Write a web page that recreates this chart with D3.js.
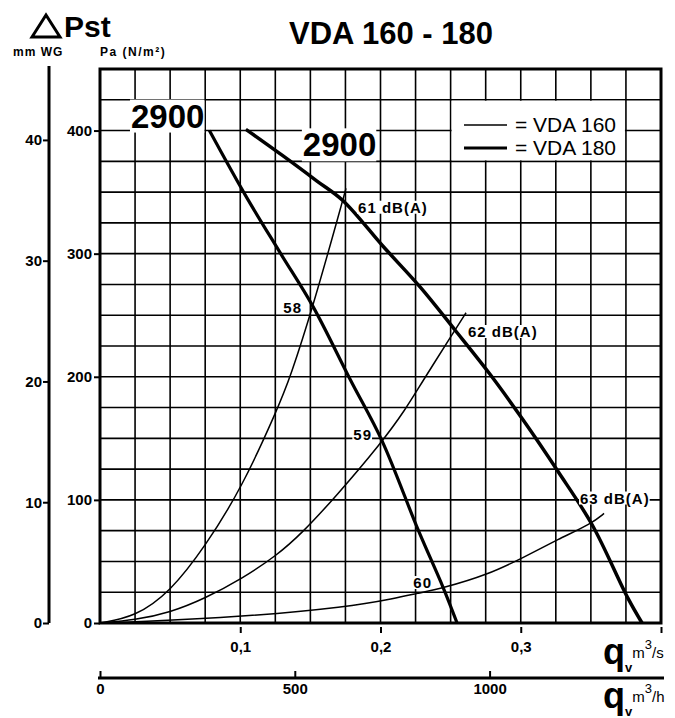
<!DOCTYPE html>
<html>
<head>
<meta charset="utf-8">
<script src="https://cdn.jsdelivr.net/npm/d3@7"></script>
<style>
  body { margin: 0; background: #fff; }
  svg { display: block; }
  text { font-family: "Liberation Sans", Arial, sans-serif; fill: #000; }
</style>
</head>
<body>
<div id="chart"></div>
<script>
const fan160 = [[0.078, 400], [0.1034, 348], [0.1283, 301], [0.1519, 257], [0.1783, 198],
                [0.2011, 148], [0.2267, 76], [0.2446, 29], [0.2546, 0]];
const fan180 = [[0.104, 401], [0.1298, 380], [0.1547, 359], [0.1733, 343], [0.2018, 306],
                [0.2282, 273], [0.2531, 238], [0.2781, 202], [0.3016, 165], [0.3266, 123],
                [0.3508, 80], [0.3765, 20], [0.3865, 0]];
// Courbes de réseau (fines)
const sysA = [[0, 0], [0.025, 5], [0.0499, 25], [0.0749, 62], [0.1012, 110], [0.1262, 173],
              [0.1355, 199], [0.1519, 257], [0.1725, 341], [0.1754, 353]];
const sysB = [[0, 0], [0.025, 2.4], [0.0499, 8.5], [0.0749, 20], [0.1012, 36], [0.1262, 55],
              [0.144, 73], [0.1676, 102], [0.2011, 147], [0.2175, 173], [0.2282, 193],
              [0.2531, 238], [0.261, 252]];
const sysC = [[0, 0], [0.025, 0.8], [0.1012, 5], [0.1768, 13], [0.2103, 20], [0.226, 24],
              [0.2446, 28.4], [0.2759, 39], [0.3016, 53], [0.3266, 68], [0.3508, 81], [0.3594, 89]];

// points de fonctionnement annotés
const dbLabels = ["61 dB(A)", "58", "62 dB(A)", "59", "60", "63 dB(A)"];
const dbPoints = [[0.1733, 343], [0.1519, 257], [0.2531, 238], [0.2011, 148], [0.2446, 28.4], [0.3508, 80]];
const speedLabels = ["2900", "2900"];

// axes
const paTicks = [0, 100, 200, 300, 400];
const mmTicks = [0, 10, 20, 30, 40];
const qsTicks = [0.1, 0.2, 0.3, 0.4];
const qsTickLabels = ["0,1", "0,2", "0,3", ""];
const qhTicks = [0, 500, 1000];
const legendLabels = ["= VDA 160", "= VDA 180"];

const PA_PER_MM = 9.81;
const QMAX = 0.4, PMAX = 450;

document.addEventListener("DOMContentLoaded", () => {
    const width = 675, height = 718;
    const plot = { left: 100, right: 661, top: 69, bottom: 623 };

    const svg = d3.select("#chart").append("svg")
        .attr("width", width)
        .attr("height", height);

    const x = d3.scaleLinear().domain([0, QMAX]).range([plot.left, plot.right]);
    const y = d3.scaleLinear().domain([0, PMAX]).range([plot.bottom, plot.top]);
    const yMM = d3.scaleLinear().domain([0, PMAX / PA_PER_MM]).range([plot.bottom, plot.top]);
    const xH = d3.scaleLinear().domain([0, QMAX * 3600]).range([plot.left, plot.right]);

    // grille
    const grid = svg.append("g").attr("stroke", "#000").attr("stroke-width", 1.6);
    grid.selectAll(".v").data(d3.range(0, QMAX + 1e-6, 0.025)).enter().append("line")
        .attr("x1", d => x(d)).attr("x2", d => x(d))
        .attr("y1", y(0)).attr("y2", y(PMAX));
    grid.selectAll(".h").data(d3.range(0, PMAX + 1e-6, 25)).enter().append("line")
        .attr("y1", d => y(d)).attr("y2", d => y(d))
        .attr("x1", x(0)).attr("x2", x(QMAX));

    // cadre légende (fond blanc sur la grille)
    svg.append("rect")
        .attr("x", x(0.25) + 1).attr("y", y(425) + 1)
        .attr("width", x(0.375) - x(0.25) - 2).attr("height", y(375) - y(425) - 2)
        .attr("fill", "#fff");

    // cadre
    svg.append("rect")
        .attr("x", plot.left).attr("y", plot.top)
        .attr("width", plot.right - plot.left).attr("height", plot.bottom - plot.top)
        .attr("fill", "none").attr("stroke", "#000").attr("stroke-width", 3);

    // courbes
    const smooth = d3.line().x(d => x(d[0])).y(d => y(d[1])).curve(d3.curveBasis);
    const fanLine = d3.line().x(d => x(d[0])).y(d => y(d[1])).curve(d3.curveCatmullRom.alpha(0.5));
    [sysA, sysB, sysC].forEach(s => {
        svg.append("path").attr("d", smooth(s))
            .attr("fill", "none").attr("stroke", "#000").attr("stroke-width", 1.5);
    });
    svg.append("path").attr("d", fanLine(fan160))
        .attr("fill", "none").attr("stroke", "#000").attr("stroke-width", 3.2);
    svg.append("path").attr("d", fanLine(fan180))
        .attr("fill", "none").attr("stroke", "#000").attr("stroke-width", 3.5);

    // étiquettes avec fond blanc
    function label(tx, ty, txt, anchor, size, spacing) {
        const g = svg.append("g");
        const t = g.append("text")
            .attr("x", tx).attr("y", ty)
            .attr("text-anchor", anchor)
            .attr("font-size", size)
            .attr("font-weight", "bold")
            .attr("letter-spacing", spacing)
            .text(txt);
        const b = t.node().getBBox();
        g.insert("rect", "text")
            .attr("x", b.x - 1).attr("y", b.y + 2)
            .attr("width", b.width + 1).attr("height", b.height - 4)
            .attr("fill", "#fff");
        return t;
    }
    const offsets = [[15, 12, "start"], [-11, 6, "end"], [13, 7, "start"], [-10, -1, "end"], [-11, 0, "end"], [-12, -21, "start"]];
    dbLabels.forEach((txt, i) => {
        const p = dbPoints[i], o = offsets[i];
        label(x(p[0]) + o[0], y(p[1]) + o[1], txt, o[2], 15, 1);
    });
    label(x(fan160[0][0]) - 5, y(fan160[0][1]) - 3, speedLabels[0], "end", 33, 0);
    label(x(fan180[0][0]) + 57, y(fan180[0][1]) + 27, speedLabels[1], "start", 33, 0);

    // axe Pa
    const axPa = svg.append("g")
        .attr("transform", `translate(${plot.left},0)`)
        .call(d3.axisLeft(y).tickValues(paTicks).tickSize(6).tickPadding(2));
    // axe mm WG
    const axMM = svg.append("g")
        .attr("transform", `translate(49,0)`)
        .call(d3.axisLeft(yMM).tickValues(mmTicks).tickSizeInner(6).tickSizeOuter(0).tickPadding(1));
    axMM.select(".domain").attr("stroke-width", 3).attr("d", `M0,${plot.top - 3}V${plot.bottom}`);
    axPa.select(".domain").remove();

    // axe m3/s
    const axQs = svg.append("g")
        .attr("transform", `translate(0,${plot.bottom + 4})`)
        .call(d3.axisBottom(x).tickValues(qsTicks).tickFormat((d, i) => qsTickLabels[i]).tickSize(6).tickPadding(8));
    axQs.select(".domain").remove();

    // axe m3/h
    const axQh = svg.append("g")
        .attr("transform", `translate(0,678)`)
        .call(d3.axisBottom(xH).tickValues(qhTicks).tickFormat(d3.format("d"))
            .tickSizeInner(-7).tickSizeOuter(0).tickPadding(5));
    axQh.select(".domain").attr("stroke-width", 3).attr("d", `M${plot.left - 2},0H${plot.right + 3}`);

    [axPa, axMM, axQs, axQh].forEach(a => {
        a.selectAll(".tick line").attr("stroke-width", 2);
        a.selectAll("text").attr("font-size", 15).attr("font-weight", "bold")
            .attr("font-family", '"Liberation Sans", Arial, sans-serif');
    });

    // titre
    svg.append("text").attr("x", 391).attr("y", 44).attr("text-anchor", "middle")
        .attr("font-size", 31).attr("font-weight", "bold").text("VDA 160 - 180");

    // ΔPst
    svg.append("path")
        .attr("d", "M32,37L46,15L60,37Z")
        .attr("fill", "none").attr("stroke", "#000").attr("stroke-width", 3).attr("stroke-linejoin", "miter");
    svg.append("text").attr("x", 64).attr("y", 37)
        .attr("font-size", 30).attr("font-weight", "bold").text("Pst");
    svg.append("text").attr("x", 13).attr("y", 56)
        .attr("font-size", 12).attr("font-weight", "bold").attr("letter-spacing", 1).text("mm WG");
    svg.append("text").attr("x", 100).attr("y", 56)
        .attr("font-size", 12).attr("font-weight", "bold").attr("letter-spacing", 1.5).text("Pa (N/m²)");

    // légende
    const legW = [1.5, 3.2];
    const legY = [125, 148];
    legendLabels.forEach((txt, i) => {
        svg.append("line")
            .attr("x1", 464).attr("x2", 507)
            .attr("y1", legY[i]).attr("y2", legY[i])
            .attr("stroke", "#000").attr("stroke-width", legW[i]);
        svg.append("text").attr("x", 515).attr("y", legY[i] + 7)
            .attr("font-size", 21).text(txt);
    });

    // q_v unités
    function qLabel(yBase, unit) {
        const t = svg.append("text").attr("x", 603).attr("y", yBase)
            .attr("font-weight", "bold");
        t.append("tspan").attr("font-size", 36).text("q");
        t.append("tspan").attr("font-size", 13).attr("dy", 8).text("v");
        t.append("tspan").attr("font-size", 15).attr("dy", -14).attr("font-weight", "normal").text("m");
        t.append("tspan").attr("font-size", 13).attr("dy", -9).attr("font-weight", "normal").text("3");
        t.append("tspan").attr("font-size", 15).attr("dy", 9).attr("font-weight", "normal").text(unit);
    }
    qLabel(664, "/s");
    qLabel(708, "/h");
});
</script>
</body>
</html>
